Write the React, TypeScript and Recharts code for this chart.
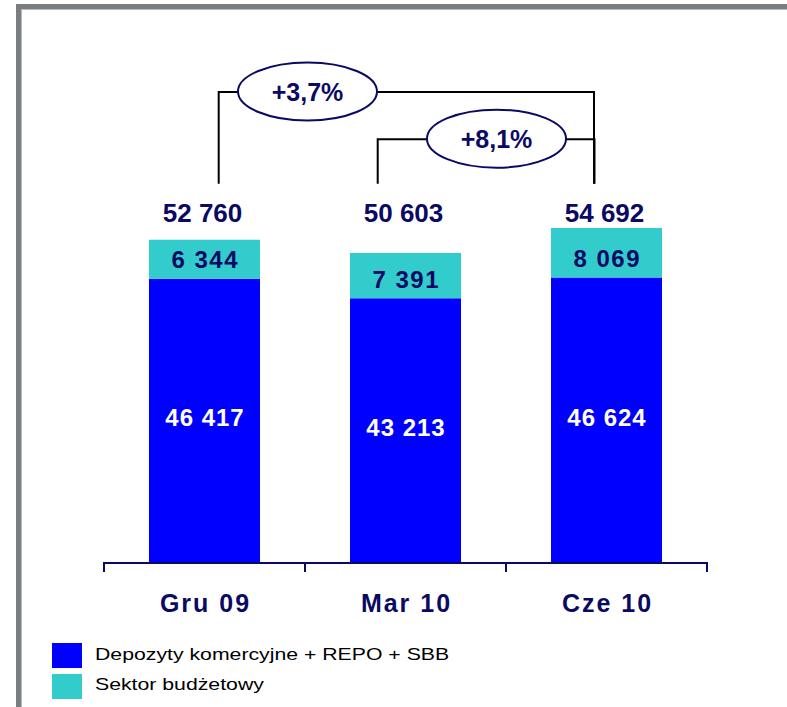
import React from 'react';
import { BarChart, Bar, XAxis, YAxis, LabelList, ReferenceLine, ReferenceDot } from 'recharts';

const categories = ['Gru 09', 'Mar 10', 'Cze 10'];
const commercialDeposits = [46417, 43213, 46624];
const budgetSector = [6344, 7391, 8069];
const totals = [52760, 50603, 54692];
const seriesNames = ['Depozyty komercyjne + REPO + SBB', 'Sektor budżetowy'];
const seriesColors = ['#0000ff', '#33cccc'];
const changeFrom = ['Gru 09', 'Mar 10'];
const changeTo = ['Cze 10', 'Cze 10'];
const changeLabels = ['+3,7%', '+8,1%'];

const data = categories.map((c, i) => ({
  category: c,
  commercial: commercialDeposits[i],
  budget: budgetSector[i],
  total: totals[i],
}));

const NAVY = '#0a0a64';
const FONT = '"Liberation Sans", Arial, Helvetica, sans-serif';
const Y_MAX = 80000;
const TOTAL_LABEL_LEVEL = 57250;
const BRACKET_TOPS = [76900, 69200];
const BRACKET_BOTTOM = 61900;
const BRACKET_STYLE = [
  { dxL: 14.2, dxR: -12.5, ellipseDx: 103 },
  { dxL: -27.8, dxR: -12, ellipseDx: 91 },
];

const fmt = (n: number) => String(n).replace(/\B(?=(\d{3})+(?!\d))/g, ' ');

const geom = (p: any) => {
  const vb = p.viewBox || {};
  return {
    x: p.x ?? vb.x,
    y: p.y ?? vb.y,
    width: p.width ?? vb.width,
    height: p.height ?? vb.height,
  };
};

const blueLabel = (p: any) => {
  const { x, y, width, height } = geom(p);
  return (
    <text
      x={x + width / 2 + 0.5}
      y={y + height / 2 + 5.6}
      textAnchor="middle"
      fill="#ffffff"
      fontSize={24}
      fontWeight="bold"
      fontFamily={FONT}
      style={{ letterSpacing: 1 }}
    >
      {fmt(Number(p.value))}
    </text>
  );
};

const cyanLabel = (p: any) => {
  const { x, y, width, height } = geom(p);
  return (
    <text
      x={x + width / 2 + 0.75}
      y={y + height - 19 + 8.6}
      textAnchor="middle"
      fill={NAVY}
      fontSize={24}
      fontWeight="bold"
      fontFamily={FONT}
      style={{ letterSpacing: 1.5 }}
    >
      {fmt(Number(p.value))}
    </text>
  );
};

const CategoryTick = (p: any) => {
  const band =
    p.width && p.visibleTicksCount
      ? p.width / p.visibleTicksCount
      : p.payload && p.payload.offset
      ? p.payload.offset * 2
      : 201;
  const half = band / 2;
  const x = p.x;
  const y = p.y;
  const last = p.index === (p.visibleTicksCount || categories.length) - 1;
  return (
    <g>
      <line x1={x - half} x2={x - half} y1={y - 1} y2={y + 9} stroke={NAVY} strokeWidth={2} />
      {last && <line x1={x + half} x2={x + half} y1={y - 1} y2={y + 9} stroke={NAVY} strokeWidth={2} />}
      <text
        x={x + 1}
        y={y + 49}
        textAnchor="middle"
        fill={NAVY}
        fontSize={25}
        fontWeight="bold"
        fontFamily={FONT}
        style={{ letterSpacing: 2 }}
      >
        {p.payload.value}
      </text>
    </g>
  );
};

const bracketShape = (i: number) => (p: any) => {
  const { x1, y1, x2, y2 } = p;
  const s = BRACKET_STYLE[i];
  const lx = x1 + s.dxL;
  const rx = x2 + s.dxR;
  const cx = x1 + s.ellipseDx;
  return (
    <g>
      <path d={`M${lx},${y2} V${y1} H${rx} V${y2}`} fill="none" stroke="#000" strokeWidth={2} />
      <ellipse cx={cx} cy={y1 - 0.5} rx={69.5} ry={29} fill="#ffffff" stroke={NAVY} strokeWidth={2} />
      <text
        x={cx}
        y={y1 + 9}
        textAnchor="middle"
        fill={NAVY}
        fontSize={25}
        fontWeight="bold"
        fontFamily={FONT}
      >
        {changeLabels[i]}
      </text>
    </g>
  );
};

const totalShape = (i: number) => (p: any) => (
  <text
    x={p.cx - 2}
    y={p.cy + 9.3}
    textAnchor="middle"
    fill={NAVY}
    fontSize={26}
    fontWeight="bold"
    fontFamily={FONT}
  >
    {fmt(totals[i])}
  </text>
);

export default function App() {
  return (
    <div style={{ position: 'absolute', left: 0, top: 0, width: 787, height: 707, background: '#ffffff', overflow: 'hidden' }}>
      <div
        style={{
          position: 'absolute',
          left: 16,
          top: 4,
          width: 800,
          height: 720,
          borderLeft: '5px solid #7a7e81',
          borderTop: '5px solid #7a7e81',
        }}
      />
      <div
        style={{
          position: 'absolute',
          left: 21,
          top: 9,
          width: 800,
          height: 720,
          borderLeft: '1px solid #b8bbbd',
          borderTop: '1px solid #b8bbbd',
        }}
      />
      <div style={{ position: 'absolute', left: 0, top: 0 }}>
        <BarChart
          width={787}
          height={707}
          data={data}
          margin={{ top: 73, right: 80, bottom: 104, left: 104 }}
        >
          <YAxis hide domain={[0, Y_MAX]} type="number" />
          <XAxis
            dataKey="category"
            axisLine={{ stroke: NAVY, strokeWidth: 2 }}
            tickLine={false}
            tickSize={0}
            tickMargin={0}
            height={40}
            interval={0}
            tick={(props: any) => <CategoryTick {...props} />}
          />
          <Bar dataKey="commercial" name={seriesNames[0]} stackId="a" fill={seriesColors[0]} barSize={111} isAnimationActive={false}>
            <LabelList dataKey="commercial" content={blueLabel} />
          </Bar>
          <Bar dataKey="budget" name={seriesNames[1]} stackId="a" fill={seriesColors[1]} barSize={111} isAnimationActive={false}>
            <LabelList dataKey="budget" content={cyanLabel} />
          </Bar>
          {categories.map((c, i) => (
            <ReferenceDot
              key={`t${i}`}
              x={c}
              y={TOTAL_LABEL_LEVEL}
              r={0}
              fill="none"
              stroke="none"
              ifOverflow="visible"
              shape={totalShape(i)}
            />
          ))}
          {changeLabels.map((l, i) => (
            <ReferenceLine
              key={`b${i}`}
              segment={[
                { x: changeFrom[i], y: BRACKET_TOPS[i] },
                { x: changeTo[i], y: BRACKET_BOTTOM },
              ]}
              ifOverflow="visible"
              shape={bracketShape(i)}
            />
          ))}
        </BarChart>
      </div>
      <svg style={{ position: 'absolute', left: 0, top: 0 }} width={787} height={707}>
        {seriesNames.map((n, i) => (
          <g key={n}>
            <rect x={52} y={643 + i * 31} width={30} height={25} fill={seriesColors[i]} />
            <text
              transform={`translate(95,${659.5 + i * 30.5}) scale(1.25,1)`}
              x={0}
              y={0}
              fill="#000000"
              fontSize={17}
              fontFamily={FONT}
            >
              {n}
            </text>
          </g>
        ))}
      </svg>
    </div>
  );
}
